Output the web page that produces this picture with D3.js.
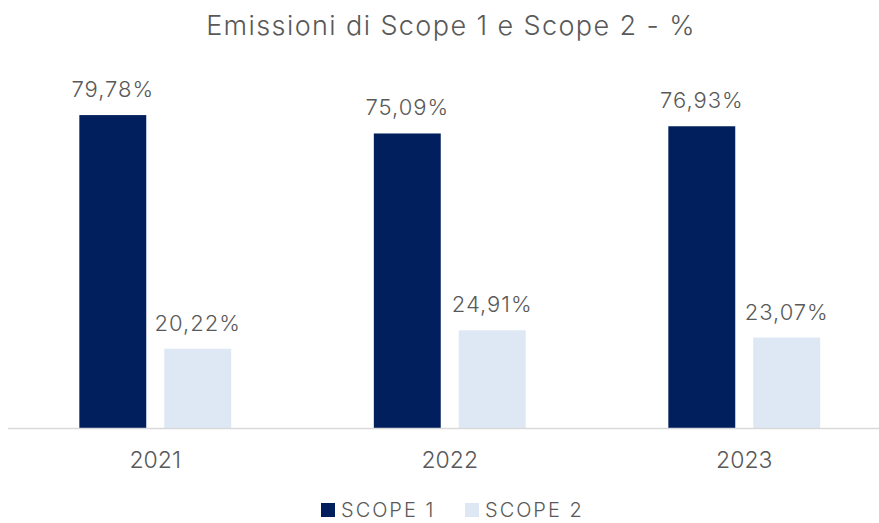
<!DOCTYPE html>
<html>
<head>
<meta charset="utf-8">
<script src="https://cdn.jsdelivr.net/npm/d3@7"></script>
<style>
  body { margin: 0; background: #fff; }
  text { font-family: Inter, "Open Sans", sans-serif; fill: #595959; }
</style>
</head>
<body>
<div id="container"></div>
<script>
// data
let years = ["2021", "2022", "2023"];
let seriesNames = ["SCOPE 1", "SCOPE 2"];
let scope1 = [79.78, 75.09, 76.93];
let scope2 = [20.22, 24.91, 23.07];
let chartTitle = "Emissioni di Scope 1 e Scope 2 - %";

let w = 879;
let h = 523;
let colors = ["#001f5c", "#dde8f4"];

let viz = d3.select("#container")
  .append("svg")
    .attr("width", w)
    .attr("height", h);

let rows = years.map(function(y, i) {
  return { year: y, values: [scope1[i], scope2[i]] };
});

let baseline = 428;

let x = d3.scaleBand()
  .domain(years)
  .range([8, 891.5])
  .paddingInner(0)
  .paddingOuter(0);

let xInner = d3.scaleBand()
  .domain(seriesNames)
  .range([0, x.bandwidth()])
  .paddingInner(0.212)
  .paddingOuter(0.84);

let y = d3.scaleLinear()
  .domain([0, 90])
  .range([baseline, 75]);

function fmt(v) {
  return v.toFixed(2).replace(".", ",") + "%";
}

// title
viz.append("text")
    .attr("x", 451)
    .attr("y", 35)
    .attr("text-anchor", "middle")
    .attr("font-size", 27)
    .attr("font-weight", 300)
    .attr("letter-spacing", 1.4)
    .text(chartTitle);

// bars
let groups = viz.selectAll(".yearGroup").data(rows).enter()
  .append("g")
    .attr("class", "yearGroup")
    .attr("transform", function(d) { return "translate(" + x(d.year) + ",0)"; });

let cells = groups.selectAll(".cell")
  .data(function(d) { return d.values.map(function(v, j) { return { name: seriesNames[j], value: v, j: j }; }); })
  .enter();

cells.append("rect")
    .attr("x", function(d) { return xInner(d.name); })
    .attr("y", function(d) { return y(d.value); })
    .attr("width", xInner.bandwidth())
    .attr("height", function(d) { return baseline - y(d.value); })
    .attr("fill", function(d) { return colors[d.j]; });

cells.append("text")
    .attr("x", function(d) { return xInner(d.name) + xInner.bandwidth() / 2; })
    .attr("y", function(d) { return y(d.value) - 18; })
    .attr("text-anchor", "middle")
    .attr("font-size", 22)
    .attr("font-weight", 300)
    .attr("letter-spacing", 1)
    .text(function(d) { return fmt(d.value); });

// axis line
viz.append("line")
    .attr("x1", 8)
    .attr("x2", w)
    .attr("y1", baseline + 0.5)
    .attr("y2", baseline + 0.5)
    .attr("stroke", "#d9d9d9")
    .attr("stroke-width", 1.5);

let xAxis = viz.append("g")
    .attr("transform", "translate(0," + baseline + ")")
    .call(d3.axisBottom(x).tickSize(0).tickPadding(0));
xAxis.select(".domain").remove();
xAxis.selectAll("text")
    .attr("y", 40)
    .attr("dy", 0)
    .attr("font-size", 23)
    .attr("font-weight", 300)
    .style("font-family", "Inter, 'Open Sans', sans-serif")
    .attr("fill", "#595959");

// legend
let legendX = [321, 465];
let legend = viz.selectAll(".legendItem").data(seriesNames).enter()
  .append("g")
    .attr("class", "legendItem")
    .attr("transform", function(d, i) { return "translate(" + legendX[i] + ",503)"; });

legend.append("rect")
    .attr("width", 14)
    .attr("height", 14)
    .attr("fill", function(d, i) { return colors[i]; });

legend.append("text")
    .attr("x", 20)
    .attr("y", 14)
    .attr("font-size", 20)
    .attr("font-weight", 300)
    .attr("letter-spacing", 2)
    .text(function(d) { return d; });
</script>
</body>
</html>
